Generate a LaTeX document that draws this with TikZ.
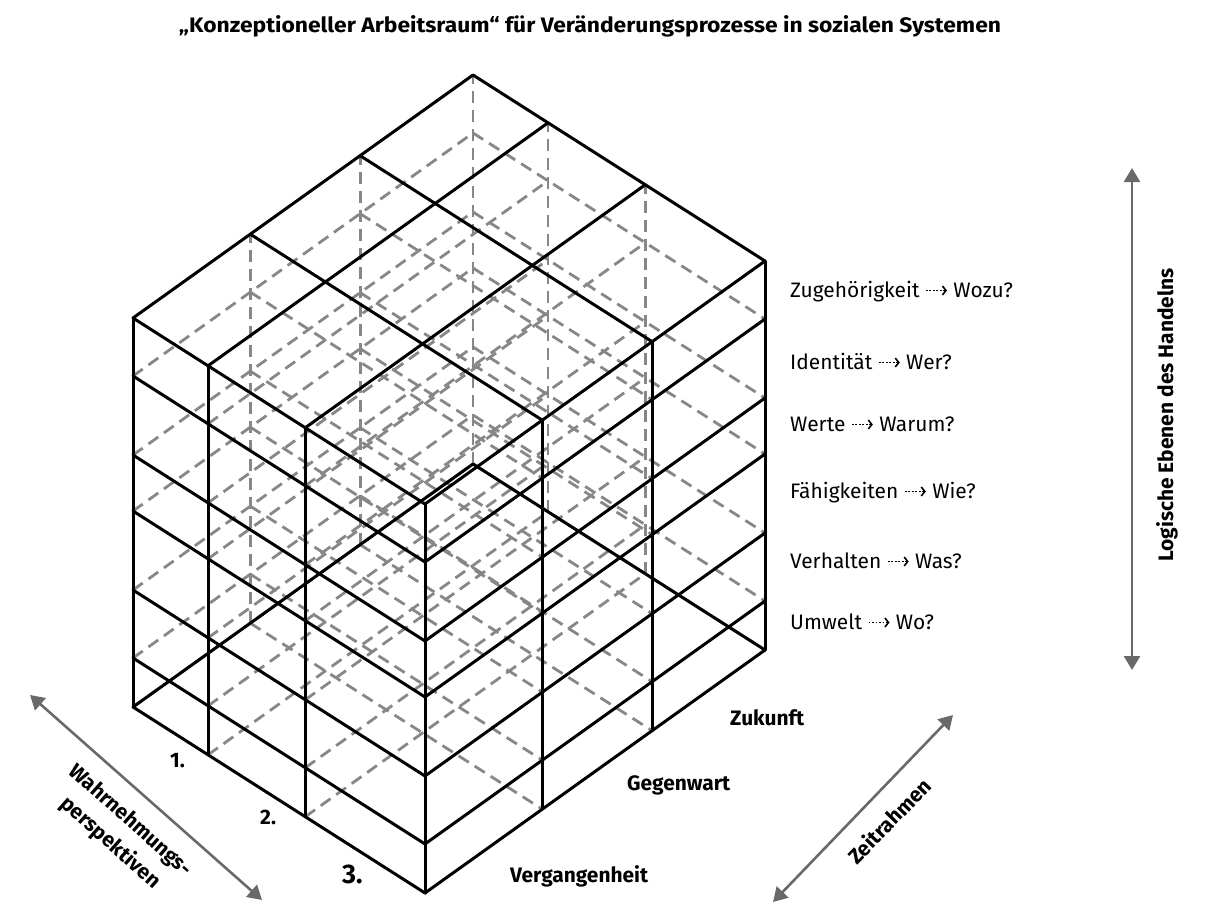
\documentclass[tikz,border=0pt]{standalone}
\usepackage{graphicx}
\usepackage{fontspec}
\setmainfont{Fira Sans}
\usetikzlibrary{arrows.meta}
\definecolor{dashgray}{RGB}{135,135,135}
\definecolor{arrgray}{RGB}{105,105,105}
\newcommand{\dotarr}{\tikz[baseline={(0bp,-6.5bp)}]{\draw[line width=1.8bp, dash pattern=on 1.8bp off 1.7bp, -{Straight Barb[length=3.5bp,width=9bp,line width=1.6bp]}] (0bp,0bp) -- (21bp,0bp);}}
\begin{document}
\begin{tikzpicture}[x=1bp,y=-1bp,
  edge/.style={black,line width=3bp,line cap=round,line join=round},
  hid/.style={dashgray,line width=2.8bp,dash pattern=on 12bp off 7bp},
  dimarrow/.style={arrgray,line width=2.6bp,{Triangle[length=14bp,width=16bp]}-{Triangle[length=14bp,width=16bp]}},
  lbl/.style={font=\fontsize{21}{25}\selectfont, anchor=base west, inner sep=0pt},
  blbl/.style={font=\fontsize{21}{25}\selectfont\bfseries, inner sep=0pt}]
\useasboundingbox (0,0) rectangle (1207,904);
% cube
\begin{scope}[shift={(133,707)}, x={(292bp,-186bp)}, y={(340bp,243bp)}, z={(0bp,1bp)}]
\foreach \z in {0,49,117,196,252,331}{
  \foreach \b in {0.345,0.668,1}{\draw[hid] (0,\b,\z) -- (1,\b,\z);}
  \foreach \a in {0,0.257,0.59}{\draw[hid] (\a,0,\z) -- (\a,1,\z);}
}
\foreach \a/\b in {0/0.345,0/0.668,0/1,0.257/1,0.59/1}{\draw[hid] (\a,\b,0) -- (\a,\b,389);}
\foreach \z in {0,49,117,196,252,331,389}{\draw[edge] (0,0,\z) -- (1,0,\z) -- (1,1,\z);}
\foreach \b in {0.345,0.668,1}{\draw[edge] (0,\b,389) -- (1,\b,389);}
\foreach \a in {0,0.257,0.59}{\draw[edge] (\a,0,389) -- (\a,1,389);}
\draw[edge] (0,0,0) -- (0,1,0) -- (1,1,0);
\foreach \a/\b in {0/0,0.257/0,0.59/0,1/0,1/0.345,1/0.668,1/1}{\draw[edge] (\a,\b,0) -- (\a,\b,389);}
\end{scope}
% title
\node[inner sep=0pt, anchor=base] (title) at (590,33) {\resizebox{822bp}{\height}{\fontsize{21}{25}\selectfont\bfseries „Konzeptioneller Arbeitsraum“ für Veränderungsprozesse in sozialen Systemen}};
% level labels
\node[lbl] (l1) at (790,297) {Zugehörigkeit \dotarr\ Wozu?};
\node[lbl] (l2) at (790,369) {Identität \dotarr\ Wer?};
\node[lbl] (l3) at (790,431) {Werte \dotarr\ Warum?};
\node[lbl] (l4) at (790,498) {Fähigkeiten \dotarr\ Wie?};
\node[lbl] (l5) at (790,568) {Verhalten \dotarr\ Was?};
\node[lbl] (l6) at (790,629) {Umwelt \dotarr\ Wo?};
% time labels
\node[blbl, anchor=base west] (t1) at (510,882) {Vergangenheit};
\node[blbl, anchor=base west] (t2) at (627,790) {Gegenwart};
\node[blbl, anchor=base west] (t3) at (730,725) {Zukunft};
% perspective numbers
\node[blbl, anchor=base west] (p1) at (170,767) {1.};
\node[blbl, anchor=base west] (p2) at (260,824) {2.};
\node[blbl, anchor=base west, font=\fontsize{27}{30}\selectfont\bfseries] (p3) at (342,883) {3.};
% arrows
\coordinate (wA) at (30,695); \coordinate (wB) at (262,900);
\coordinate (zA) at (773,902); \coordinate (zB) at (953,715);
\coordinate (lA) at (1132,168); \coordinate (lB) at (1132,670);
\draw[dimarrow] (wA) -- (wB);
\draw[dimarrow] (zA) -- (zB);
\draw[dimarrow] (lA) -- (lB);
\node[blbl, rotate=90] (lbE) at (1167,415) {Logische Ebenen des Handelns};
\node[blbl, rotate=-41.5, align=center, font=\fontsize{21}{30}\selectfont\bfseries] (lbW) at (120,832) {Wahrnehmungs-\\perspektiven};
\node[blbl, rotate=46] (lbZ) at (889,821) {Zeitrahmen};
\end{tikzpicture}
\end{document}
